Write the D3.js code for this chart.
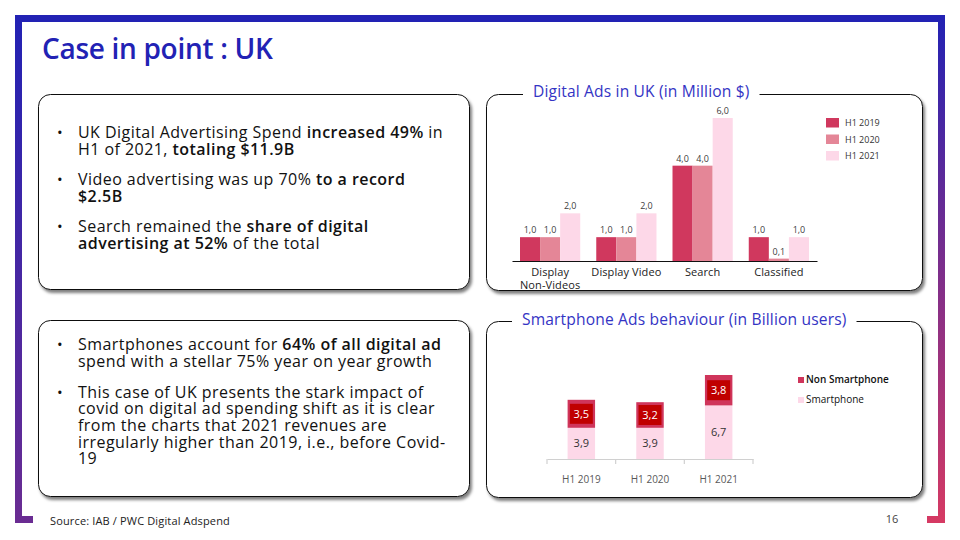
<!DOCTYPE html>
<html>
<head>
<meta charset="UTF-8">
<title>Case in point : UK</title>
<script src="https://d3js.org/d3.v7.min.js"></script>
<style>
  html, body { margin: 0; padding: 0; background: #fff; }
  svg { display: block; font-family: "Open Sans", "DejaVu Sans", sans-serif; }
</style>
</head>
<body>
<div id="slide"></div>
<script>
// ---- data ----
const adCategories = ["Display Non-Videos", "Display Video", "Search", "Classified"];
const adCategoryLabels = [["Display", "Non-Videos"], ["Display Video"], ["Search"], ["Classified"]];
const adPeriods = ["H1 2019", "H1 2020", "H1 2021"];
const ads2019 = [1.0, 1.0, 4.0, 1.0];
const ads2020 = [1.0, 1.0, 4.0, 0.1];
const ads2021 = [2.0, 2.0, 6.0, 1.0];

const phonePeriods = ["H1 2019", "H1 2020", "H1 2021"];
const smartphone = [3.9, 3.9, 6.7];
const nonSmartphone = [3.5, 3.2, 3.8];

const topBullets = [
  [[["UK Digital Advertising Spend ", 0], ["increased 49%", 1], [" in", 0]], [["H1 of 2021, ", 0], ["totaling $11.9B", 1]]],
  [[["Video advertising was up 70% ", 0], ["to a record", 1]], [["$2.5B", 1]]],
  [[["Search remained the ", 0], ["share of digital", 1]], [["advertising at 52%", 1], [" of the total", 0]]]
];
const bottomBullets = [
  [[["Smartphones account for ", 0], ["64% of all digital ad", 1]], [["spend with a stellar 75% year on year growth", 0]]],
  [[["This case of UK presents the stark impact of", 0]], [["covid on digital ad spending shift as it is clear", 0]],
   [["from the charts that 2021 revenues are", 0]], [["irregularly higher than 2019, i.e., before Covid-", 0]], [["19", 0]]]
];

const W = 960, H = 540;
const blue = "#2222b4", pink = "#d63a63", purple = "#6a2c92";
const c2019 = "#d0385e", c2020 = "#e48697", c2021 = "#fdd8e8";
const fmt = d3.formatLocale({decimal: ",", thousands: ".", grouping: [3], currency: ["", ""]}).format(".1f");

const svg = d3.select("#slide").append("svg").attr("width", W).attr("height", H);
const defs = svg.append("defs");

const sh = defs.append("filter").attr("id", "shadow").attr("x", "-5%").attr("y", "-5%").attr("width", "115%").attr("height", "120%");
sh.append("feDropShadow").attr("dx", 2).attr("dy", 3).attr("stdDeviation", 1.6)
  .attr("flood-color", "#000").attr("flood-opacity", 0.5);

function vgrad(id, top, bottom) {
  const g = defs.append("linearGradient").attr("id", id)
    .attr("gradientUnits", "userSpaceOnUse").attr("x1", 0).attr("y1", 15).attr("x2", 0).attr("y2", 523);
  g.append("stop").attr("offset", "0%").attr("stop-color", top);
  g.append("stop").attr("offset", "100%").attr("stop-color", bottom);
}
vgrad("gradLeft", blue, purple);
vgrad("gradRight", blue, pink);

// ---- slide frame ----
svg.append("rect").attr("x", 15).attr("y", 15).attr("width", 930).attr("height", 7).attr("fill", blue);
svg.append("path").attr("fill", "url(#gradLeft)")
  .attr("d", "M15,15 H22 V516 H33 V523 H15 Z");
svg.append("path").attr("fill", "url(#gradRight)")
  .attr("d", "M938,15 H945 V523 H927 V516 H938 Z");

svg.append("text").attr("x", 42).attr("y", 59)
  .attr("font-size", 28).attr("font-weight", 600).attr("fill", blue)
  .attr("letter-spacing", -0.3)
  .text("Case in point : UK");

// ---- panels ----
function panel(x, y, w, h) {
  svg.append("rect").attr("x", x).attr("y", y).attr("width", w).attr("height", h)
    .attr("rx", 12).attr("fill", "#fff").attr("stroke", "#111").attr("stroke-width", 1)
    .attr("filter", "url(#shadow)");
}
panel(38.5, 94.5, 431, 195);
panel(38.5, 320.5, 431, 176);
panel(486.5, 94.5, 436, 196);
panel(486.5, 321.5, 436, 176);

function bulletText(groups, y0, lineH, gap) {
  let y = y0;
  groups.forEach(lines => {
    svg.append("text").attr("x", 57).attr("y", y).attr("font-size", 15).attr("fill", "#111").text("•");
    lines.forEach(segs => {
      const t = svg.append("text").attr("x", 78).attr("y", y).attr("font-size", 16)
        .attr("letter-spacing", 0.45).attr("fill", "#111");
      segs.forEach(s => t.append("tspan").attr("font-weight", s[1] ? 600 : 400).text(s[0]));
      y += lineH;
    });
    y += gap;
  });
}
bulletText(topBullets, 138, 17, 13);
bulletText(bottomBullets, 350, 16.6, 14.5);

svg.append("text").attr("x", 50).attr("y", 525).attr("font-size", 11).attr("letter-spacing", 0.15).attr("fill", "#222")
  .text("Source: IAB / PWC Digital Adspend");
svg.append("text").attr("x", 892).attr("y", 523).attr("font-size", 11).attr("fill", "#444")
  .attr("text-anchor", "middle").text("16");

function panelTitle(str, x, y) {
  const t = svg.append("text").attr("x", x).attr("y", y).attr("font-size", 15.6).attr("letter-spacing", 0.15)
    .attr("fill", "#3434c4").attr("dominant-baseline", "middle").text(str);
  const b = t.node().getBBox();
  svg.insert("rect", () => t.node()).attr("x", b.x - 10).attr("y", y - 4)
    .attr("width", b.width + 20).attr("height", 8).attr("fill", "#fff");
}
panelTitle("Digital Ads in UK (in Million $)", 533, 93);
panelTitle("Smartphone Ads behaviour (in Billion users)", 522, 321);

// ---- chart 1: grouped bars ----
const adSeries = [ads2019, ads2020, ads2021];
const adColors = [c2019, c2020, c2021];
const x0 = d3.scaleBand().domain(adCategories).range([512, 817]).paddingInner(0.21).paddingOuter(0.105);
const x1 = d3.scaleBand().domain(adPeriods).range([0, x0.bandwidth()]);
const y1 = d3.scaleLinear().domain([0, 6]).range([261, 118]);

const g1 = svg.append("g");
adCategories.forEach((cat, ci) => {
  adPeriods.forEach((p, si) => {
    const v = adSeries[si][ci];
    const bx = x0(cat) + x1(p);
    g1.append("rect").attr("x", bx).attr("y", y1(v)).attr("width", x1.bandwidth())
      .attr("height", y1(0) - y1(v)).attr("fill", adColors[si]);
    g1.append("text").attr("x", bx + x1.bandwidth() / 2).attr("y", y1(v) - 4)
      .attr("text-anchor", "middle").attr("font-size", 9).attr("fill", "#404040").text(fmt(v));
  });
});
const ax1 = g1.append("g").attr("transform", `translate(0,${y1(0)})`)
  .call(d3.axisBottom(x0).tickSize(0).tickSizeOuter(0));
ax1.select(".domain").attr("stroke", "#111").attr("stroke-width", 1.2);
ax1.selectAll(".tick text").each(function(d, i) {
  const t = d3.select(this).text(null).attr("y", 0).attr("dy", null)
    .attr("font-size", 11).attr("letter-spacing", 0.1).attr("fill", "#222").attr("font-family", "Open Sans");
  adCategoryLabels[i].forEach((ln, k) => t.append("tspan").attr("x", 0).attr("y", 15 + k * 12.5).text(ln));
});

const leg1 = svg.append("g").attr("transform", "translate(826,118)");
adPeriods.forEach((p, i) => {
  leg1.append("rect").attr("x", 0).attr("y", i * 16.5).attr("width", 13).attr("height", 9.5).attr("fill", adColors[i]);
  leg1.append("text").attr("x", 19).attr("y", i * 16.5 + 8).attr("font-size", 9).attr("fill", "#333").text(p);
});

// ---- chart 2: stacked bars ----
const xs = d3.scaleBand().domain(phonePeriods).range([547, 753]).paddingInner(0.6).paddingOuter(0.3);
const ys = d3.scaleLinear().domain([0, 12]).range([459, 363]);
const cNon = "#cf355b", cBox = "#c00000";

const g2 = svg.append("g");
phonePeriods.forEach((p, i) => {
  const bx = xs(p), bw = xs.bandwidth();
  const s = smartphone[i], n = nonSmartphone[i];
  g2.append("rect").attr("x", bx).attr("y", ys(s)).attr("width", bw).attr("height", ys(0) - ys(s)).attr("fill", c2021);
  g2.append("rect").attr("x", bx).attr("y", ys(s + n)).attr("width", bw).attr("height", ys(s) - ys(s + n)).attr("fill", cNon);
  const cy = (ys(s + n) + ys(s)) / 2;
  g2.append("rect").attr("x", bx + bw / 2 - 11.5).attr("y", cy - 10).attr("width", 23).attr("height", 20).attr("fill", cBox);
  g2.append("text").attr("x", bx + bw / 2).attr("y", cy).attr("dy", "0.35em").attr("text-anchor", "middle")
    .attr("font-size", 11).attr("fill", "#fff").text(fmt(n));
  g2.append("text").attr("x", bx + bw / 2).attr("y", (ys(s) + ys(0)) / 2).attr("dy", "0.35em").attr("text-anchor", "middle")
    .attr("font-size", 11).attr("fill", "#333").text(fmt(s));
});
const ax2 = g2.append("g").attr("transform", `translate(0,${ys(0)})`)
  .call(d3.axisBottom(xs).tickSize(0).tickSizeOuter(0));
ax2.select(".domain").attr("stroke", "#d0d0d0").attr("stroke-width", 1.2);
ax2.selectAll(".tick text").attr("y", 17).attr("font-size", 10).attr("fill", "#595959").attr("font-family", "Open Sans");
// category boundary ticks
d3.range(phonePeriods.length + 1).forEach(k => {
  const bxk = xs.range()[0] + k * (xs.range()[1] - xs.range()[0]) / phonePeriods.length;
  ax2.append("line").attr("x1", bxk).attr("x2", bxk).attr("y1", 0).attr("y2", 5).attr("stroke", "#d0d0d0").attr("stroke-width", 1.2);
});

const leg2 = svg.append("g").attr("transform", "translate(798,377)");
[["Non Smartphone", cNon, 700], ["Smartphone", c2021, 400]].forEach((d, i) => {
  leg2.append("rect").attr("x", 0).attr("y", i * 20).attr("width", 6).attr("height", 6).attr("fill", d[1]);
  leg2.append("text").attr("x", 8).attr("y", i * 20 + 6).attr("font-size", 10).attr("font-weight", d[2] === 700 ? 600 : 400)
    .attr("fill", "#111").text(d[0]);
});
</script>
</body>
</html>
